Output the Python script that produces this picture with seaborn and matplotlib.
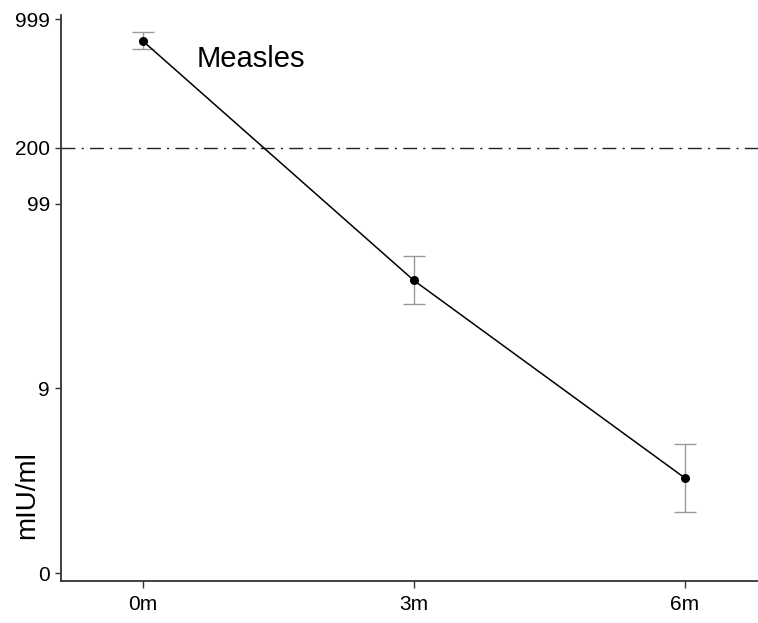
import numpy as np
import pandas as pd
import matplotlib
matplotlib.use("Agg")
import matplotlib.pyplot as plt
import seaborn as sns

# ---- data ----
timepoints = ["0m", "3m", "6m"]
gmt = [759, 37.4, 2.27]          # mIU/ml
err_low = [688, 27.8, 1.14]
err_high = [850, 50.8, 3.98]
threshold = 200
ytick_values = [0, 9, 99, 200, 999]
ytick_labels = ["0", "9", "99", "200", "999"]
title_text = "Measles"
ylabel_text = "mIU/ml"

df = pd.DataFrame({"time": timepoints, "value": gmt})

sns.set_theme(style="ticks")
plt.rcParams["font.family"] = ["Liberation Sans", "DejaVu Sans"]
plt.rcParams["text.color"] = "black"
plt.rcParams["xtick.labelcolor"] = "black"
plt.rcParams["ytick.labelcolor"] = "black"

fig = plt.figure(figsize=(7.58, 6.23), dpi=100)
ax = fig.add_axes([0.0805, 0.0674, 0.9195, 0.9085])

fwd = lambda v: np.log10(np.maximum(np.asarray(v, dtype=float) + 1, 1e-12))
inv = lambda t: 10 ** np.asarray(t, dtype=float) - 1
ax.set_yscale("function", functions=(fwd, inv))

xpos = np.arange(len(timepoints))
yerr = np.array([np.array(gmt) - np.array(err_low), np.array(err_high) - np.array(gmt)])
ax.errorbar(xpos, gmt, yerr=yerr, fmt="none", ecolor="#9a9a9a", elinewidth=1.0,
            capsize=8, capthick=1.0, zorder=2)

sns.lineplot(data=df, x="time", y="value", ax=ax, color="black", linewidth=1.1,
             marker="o", markersize=6.5, markeredgewidth=0, sort=False, zorder=3)

ax.axhline(threshold, color="#222222", linewidth=1.0, linestyle=(0, (10, 4.5, 1.5, 4.5)), zorder=1)

ax.set_xlim(-0.302, 2.27)
ax.set_ylim(-0.095, 1050)
ax.set_xticks(xpos)
ax.set_xticklabels(timepoints)
ax.set_yticks(ytick_values)
ax.set_yticklabels(ytick_labels)
ax.minorticks_off()

ax.tick_params(axis="x", length=5, width=1.0, color="#333333", labelsize=15, pad=5)
ax.tick_params(axis="y", length=4, width=1.0, color="#333333", labelsize=15, pad=4)
for s in ["top", "right"]:
    ax.spines[s].set_visible(False)
for s in ["left", "bottom"]:
    ax.spines[s].set_color("#333333")
    ax.spines[s].set_linewidth(1.3)

ax.set_xlabel("")
ax.set_ylabel(ylabel_text, fontsize=20, va="center", ha="center", color="black")
ax.yaxis.set_label_coords(-0.049, 0.152)

ax.text(0.40, 605, title_text, fontsize=21, ha="center", va="center", color="black")

fig.savefig("out.png", dpi=100)
